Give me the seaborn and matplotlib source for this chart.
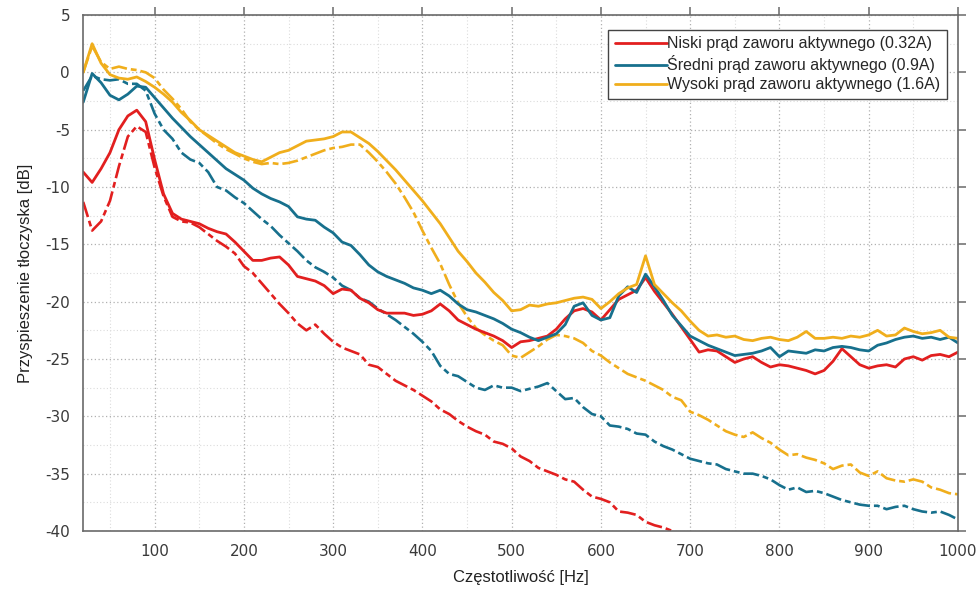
import numpy as np
import pandas as pd
import matplotlib
matplotlib.use("Agg")
import matplotlib.pyplot as plt
import seaborn as sns
from matplotlib.ticker import MultipleLocator

# Frequency axis (Hz), sampled every 10 Hz from 20 to 1000
freq = list(range(20, 1001, 10))

# Solid lines (active valve current)
low_solid = [-8.7, -9.6, -8.4, -7.0, -5.0, -3.8, -3.3, -4.3, -7.6,
             -10.6, -12.3, -12.8, -13.0, -13.2, -13.6, -13.9, -14.1, -14.8, -15.6,
             -16.4, -16.4, -16.2, -16.1, -16.8, -17.8, -18.0, -18.2, -18.6, -19.3,
             -18.9, -19.0, -19.7, -20.1, -20.7, -21.0, -21.0, -21.0, -21.2, -21.1,
             -20.8, -20.2, -20.8, -21.6, -22.0, -22.4, -22.7, -23.0, -23.4, -24.0,
             -23.5, -23.4, -23.2, -23.0, -22.4, -21.5, -20.8, -20.6, -20.9, -21.6,
             -20.7, -19.8, -19.4, -19.0, -17.9, -19.1, -20.1, -21.1, -22.2, -23.3,
             -24.4, -24.2, -24.3, -24.8, -25.3, -25.0, -24.8, -25.3, -25.7, -25.5,
             -25.6, -25.8, -26.0, -26.3, -26.0, -25.2, -24.1, -24.8, -25.5, -25.8,
             -25.6, -25.5, -25.7, -25.0, -24.8, -25.1, -24.7, -24.6, -24.8, -24.4]

mid_solid = [-2.6, -0.1, -0.9, -2.0, -2.4, -1.9, -1.2, -1.3, -2.2,
             -3.1, -4.0, -4.8, -5.6, -6.3, -7.0, -7.7, -8.4, -8.9, -9.4,
             -10.1, -10.6, -11.0, -11.3, -11.7, -12.6, -12.8, -12.9, -13.5, -14.0,
             -14.8, -15.1, -15.9, -16.8, -17.4, -17.8, -18.1, -18.4, -18.8, -19.0,
             -19.3, -19.0, -19.5, -20.2, -20.7, -20.9, -21.2, -21.5, -21.9, -22.4,
             -22.7, -23.1, -23.4, -23.1, -22.8, -22.0, -20.4, -20.1, -21.2, -21.6,
             -21.4, -19.5, -18.7, -19.2, -17.6, -18.7, -19.9, -21.2, -22.1, -23.0,
             -23.4, -23.8, -24.1, -24.4, -24.7, -24.6, -24.5, -24.3, -24.0, -24.8,
             -24.3, -24.4, -24.5, -24.2, -24.3, -24.0, -23.9, -24.0, -24.2, -24.3,
             -23.8, -23.6, -23.3, -23.1, -23.0, -23.2, -23.1, -23.3, -23.1, -23.6]

high_solid = [0.0, 2.5, 0.8, -0.2, -0.5, -0.6, -0.4, -0.8, -1.3,
              -1.9, -2.6, -3.5, -4.2, -5.0, -5.5, -6.0, -6.5, -7.0, -7.3,
              -7.6, -7.8, -7.4, -7.0, -6.8, -6.4, -6.0, -5.9, -5.8, -5.6,
              -5.2, -5.2, -5.7, -6.2, -6.9, -7.7, -8.5, -9.4, -10.3, -11.2,
              -12.2, -13.2, -14.4, -15.6, -16.5, -17.5, -18.3, -19.2, -19.9, -20.8,
              -20.7, -20.3, -20.4, -20.2, -20.1, -19.9, -19.7, -19.6, -19.8, -20.6,
              -20.0, -19.3, -18.8, -18.5, -16.0, -18.5, -19.3, -20.1, -20.8, -21.7,
              -22.5, -23.0, -22.9, -23.1, -23.0, -23.3, -23.4, -23.2, -23.1, -23.3,
              -23.4, -23.1, -22.6, -23.2, -23.2, -23.1, -23.2, -23.0, -23.1, -22.9,
              -22.5, -23.0, -22.9, -22.3, -22.6, -22.8, -22.7, -22.5, -23.1, -23.2]

# Dash-dot lines
low_dash = [-11.3, -13.8, -13.0, -11.2, -8.2, -5.6, -4.7, -5.2, -8.3,
            -10.8, -12.6, -13.0, -13.1, -13.5, -14.1, -14.7, -15.2, -15.8, -16.9,
            -17.5, -18.4, -19.3, -20.2, -21.0, -21.9, -22.5, -22.0, -22.8, -23.5,
            -24.0, -24.3, -24.6, -25.5, -25.7, -26.3, -26.9, -27.3, -27.7, -28.2,
            -28.7, -29.4, -29.8, -30.4, -30.9, -31.3, -31.6, -32.2, -32.4, -32.8,
            -33.5, -33.9, -34.5, -34.8, -35.1, -35.5, -35.7, -36.4, -37.0, -37.2,
            -37.5, -38.3, -38.4, -38.6, -39.2, -39.5, -39.7, -40.0]

mid_dash = [-1.6, -0.3, -0.6, -0.7, -0.6, -1.0, -1.0, -1.6, -3.6,
            -5.0, -5.8, -7.0, -7.6, -7.9, -8.7, -10.0, -10.3, -10.9, -11.4,
            -12.1, -12.8, -13.4, -14.2, -14.9, -15.6, -16.4, -17.0, -17.4, -17.9,
            -18.6, -19.0, -19.7, -20.0, -20.6, -21.1, -21.6, -22.2, -22.8, -23.5,
            -24.3, -25.6, -26.3, -26.5, -27.0, -27.5, -27.7, -27.3, -27.5, -27.5,
            -27.8, -27.6, -27.4, -27.1, -27.8, -28.5, -28.4, -29.2, -29.8, -30.0,
            -30.8, -30.9, -31.1, -31.5, -31.6, -32.2, -32.6, -32.9, -33.3, -33.7,
            -33.9, -34.1, -34.2, -34.6, -34.8, -35.0, -35.0, -35.2, -35.5, -36.0,
            -36.4, -36.2, -36.6, -36.5, -36.7, -37.0, -37.3, -37.5, -37.7, -37.8,
            -37.8, -38.1, -37.9, -37.8, -38.1, -38.3, -38.4, -38.3, -38.6, -39.0]

high_dash = [0.0, 2.3, 0.9, 0.3, 0.5, 0.3, 0.2, 0.0, -0.5,
             -1.5, -2.3, -3.2, -4.3, -5.0, -5.6, -6.2, -6.7, -7.1, -7.5,
             -7.8, -8.0, -7.9, -8.0, -7.9, -7.7, -7.4, -7.1, -6.8, -6.6,
             -6.5, -6.3, -6.3, -7.0, -7.8, -8.7, -9.7, -10.9, -12.2, -13.8,
             -15.3, -16.7, -18.5, -20.1, -21.3, -22.3, -22.9, -23.4, -23.8, -24.7,
             -24.9, -24.4, -23.9, -23.3, -22.9, -23.0, -23.2, -23.6, -24.3, -24.7,
             -25.3, -25.8, -26.3, -26.6, -26.9, -27.3, -27.7, -28.3, -28.6, -29.6,
             -29.9, -30.3, -30.8, -31.3, -31.6, -31.8, -31.4, -31.9, -32.3, -32.9,
             -33.4, -33.3, -33.6, -33.8, -34.1, -34.6, -34.3, -34.2, -34.9, -35.2,
             -34.8, -35.4, -35.6, -35.7, -35.5, -35.7, -36.2, -36.4, -36.7, -36.8]

labels = ["Niski prąd zaworu aktywnego (0.32A)",
          "Średni prąd zaworu aktywnego (0.9A)",
          "Wysoki prąd zaworu aktywnego (1.6A)"]
colors = ["#E21F1F", "#17708D", "#F0AE1C"]

sns.set_style("white")
plt.rcParams['font.family'] = ['Liberation Sans', 'DejaVu Sans']
plt.rcParams['axes.unicode_minus'] = False

fig = plt.figure(figsize=(9.79, 6.01), dpi=100)
ax = fig.add_axes([0.085, 0.1165, 0.8935, 0.8585])

dashdot = (0, (6, 1.5, 2.2, 1.5))
handles = []
for vals, col in zip([low_dash, mid_dash, high_dash], colors):
    sns.lineplot(x=freq[:len(vals)], y=vals, ax=ax, color=col, linewidth=1.9,
                 linestyle=dashdot, legend=False)
for vals, col in zip([low_solid, mid_solid, high_solid], colors):
    sns.lineplot(x=freq[:len(vals)], y=vals, ax=ax, color=col, linewidth=2.0,
                 legend=False)
    handles.append(ax.lines[-1])

ax.set_xlim(20, 1000)
ax.set_ylim(-40, 5)
ax.xaxis.set_major_locator(MultipleLocator(100))
ax.xaxis.set_minor_locator(MultipleLocator(50))
ax.yaxis.set_major_locator(MultipleLocator(5))
ax.yaxis.set_minor_locator(MultipleLocator(2.5))
ax.set_xticks([100, 200, 300, 400, 500, 600, 700, 800, 900, 1000])

ax.grid(which='major', color='#b0b0b0', linestyle=(0, (1, 2)), linewidth=0.9)
ax.grid(which='minor', color='#dcdcdc', linestyle=(0, (1, 2)), linewidth=0.8)
ax.set_axisbelow(True)

for s in ax.spines.values():
    s.set_color('#6a6a6a')
    s.set_linewidth(1.2)
ax.tick_params(which='major', direction='out', length=6, width=1.1, color='#6a6a6a',
               top=True, right=True, labeltop=False, labelright=False,
               labelcolor='#3a3a3a')
ax.tick_params(which='minor', length=0)
for t in ax.get_xticklabels() + ax.get_yticklabels():
    t.set_family('DejaVu Sans')
    t.set_fontsize(11)

ax.set_xlabel("Częstotliwość [Hz]", fontsize=12, color='#222222', labelpad=8)
ax.set_ylabel("Przyspieszenie tłoczyska [dB]", fontsize=12, color='#222222', labelpad=9)

leg = ax.legend(handles, labels, loc='upper right', bbox_to_anchor=(0.9874, 0.971),
                borderaxespad=0, fontsize=11.5, handlelength=3.3, handletextpad=0.0,
                labelspacing=0.25, borderpad=0.4, fancybox=False, framealpha=1)
leg.get_frame().set_edgecolor('#444444')
leg.get_frame().set_linewidth(1.0)

fig.savefig("out.png", dpi=100)
